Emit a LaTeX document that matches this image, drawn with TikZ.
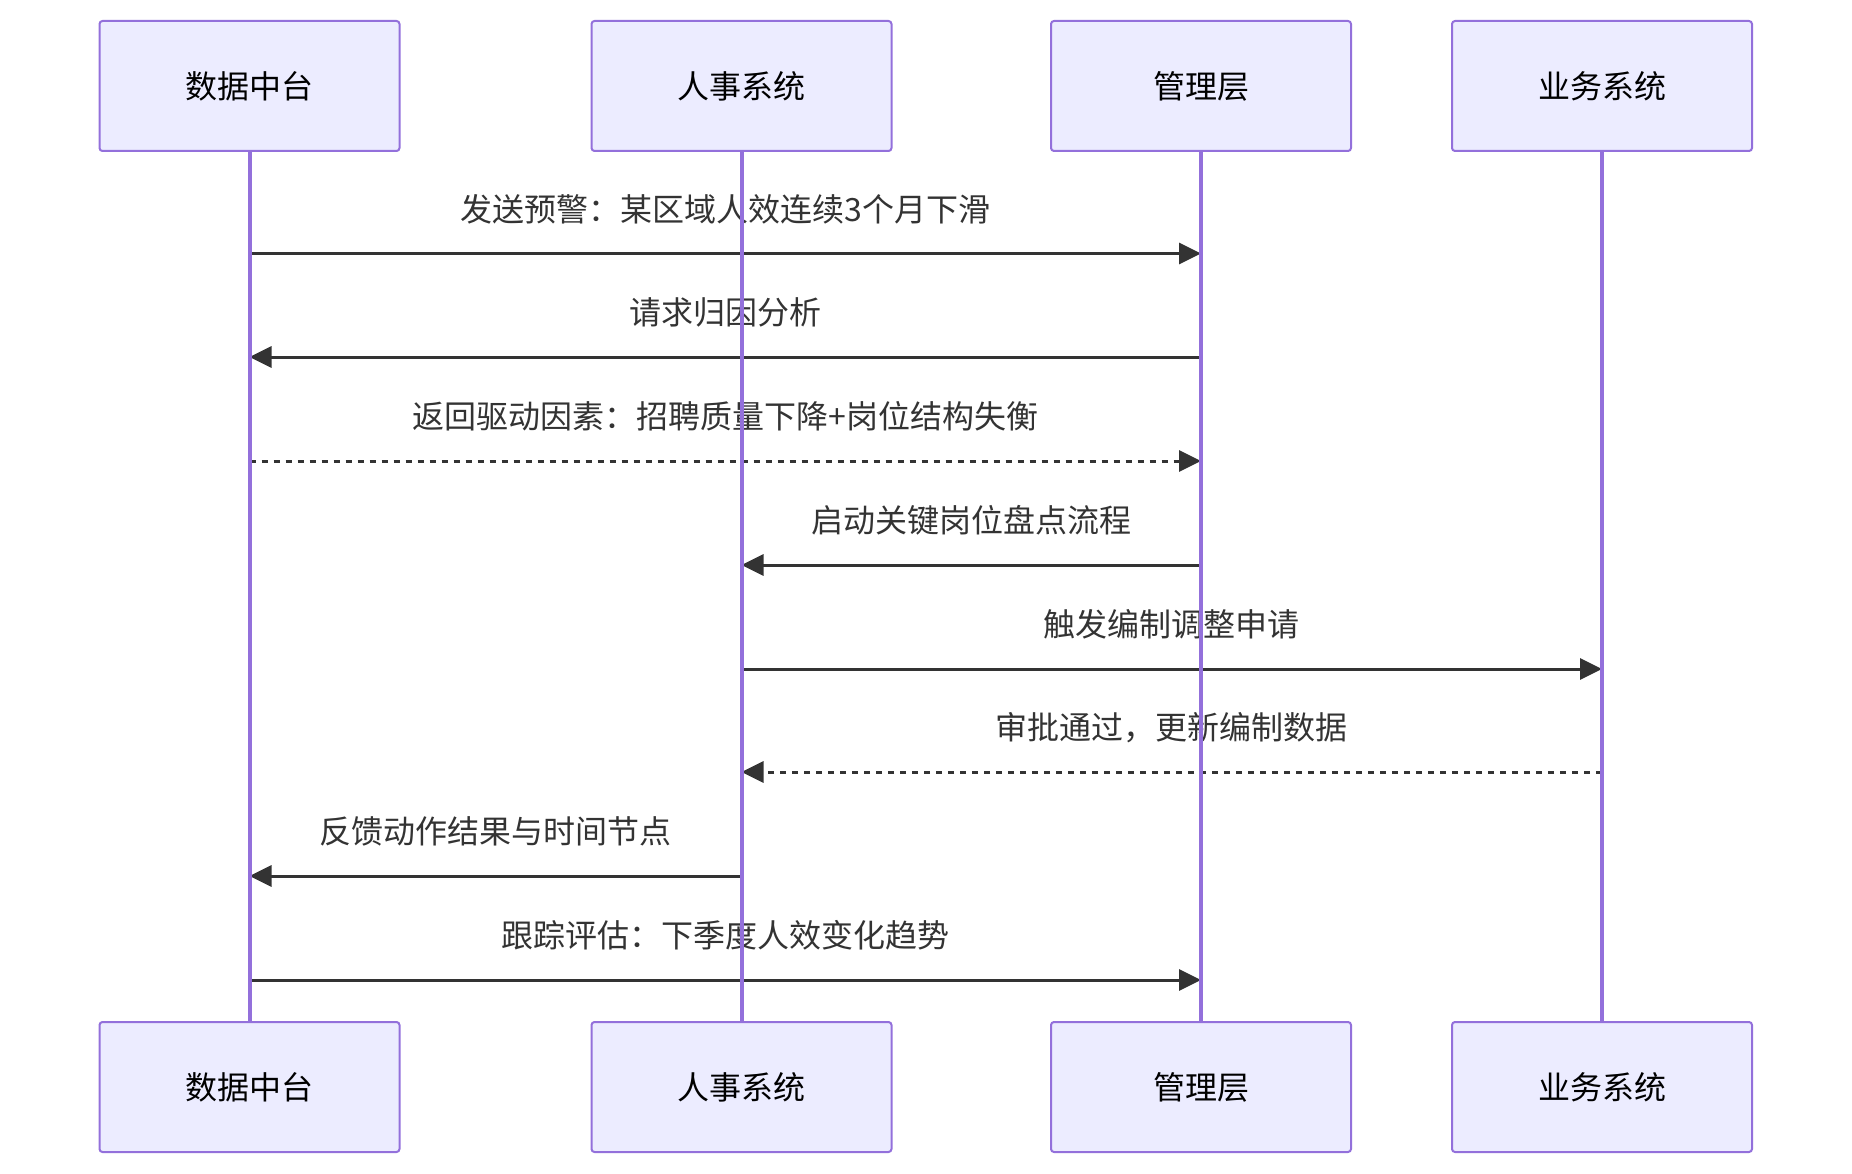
\documentclass[tikz,border=0pt]{standalone}
\usepackage{fontspec}
\setmainfont{Noto Sans CJK SC}
\usepackage{xcolor}
\usetikzlibrary{arrows.meta,positioning}
\definecolor{actorfill}{HTML}{ECECFF}
\definecolor{actorline}{HTML}{9370DB}
\definecolor{msgdark}{HTML}{333333}

\begin{document}
\begin{tikzpicture}[x=1pt,y=-1pt,
  actor/.style={draw=actorline,line width=2pt,fill=actorfill,rounded corners=3pt,
    minimum width=300pt,minimum height=130pt,font=\fontsize{32}{38}\selectfont},
  msg/.style={draw=msgdark,line width=3pt,-{Triangle[length=22pt,width=21pt]}},
  reply/.style={msg,dash pattern=on 6pt off 6pt},
  lbl/.style={text=msgdark,font=\fontsize{32}{38}\selectfont,yshift=44.5pt},
  life/.style={actorline,line width=4pt}]
  \useasboundingbox (0,0) rectangle (1852,1174);
  % actors, top and bottom
  \foreach \n/\x/\lab in {dc/249.5/数据中台,hr/741.5/人事系统,gl/1201/管理层,yw/1602/业务系统}{
    \node[actor] (\n) at (\x,86) {\lab};
    \node[actor] (\n-bot) at (\x,1087) {\lab};
  }
  % messages
  \foreach \i/\y/\a/\b/\sty/\txt in {
    1/253.5/dc/gl/msg/发送预警：某区域人效连续3个月下滑,
    2/357/gl/dc/msg/请求归因分析,
    3/461/dc/gl/reply/返回驱动因素：招聘质量下降+岗位结构失衡,
    4/565/gl/hr/msg/启动关键岗位盘点流程,
    5/669/hr/yw/msg/触发编制调整申请,
    6/772/yw/hr/reply/审批通过，更新编制数据,
    7/876/hr/dc/msg/反馈动作结果与时间节点,
    8/980/dc/gl/msg/跟踪评估：下季度人效变化趋势}{
    \coordinate (m\i) at (0,\y);
    \draw[\sty] (\a|-m\i) -- node[lbl] (t\i) {\txt} (\b|-m\i);
  }
  % lifelines on top
  \foreach \n in {dc,hr,gl,yw}
    \draw[life] (\n.south) -- (\n-bot.north);
\end{tikzpicture}
\end{document}
